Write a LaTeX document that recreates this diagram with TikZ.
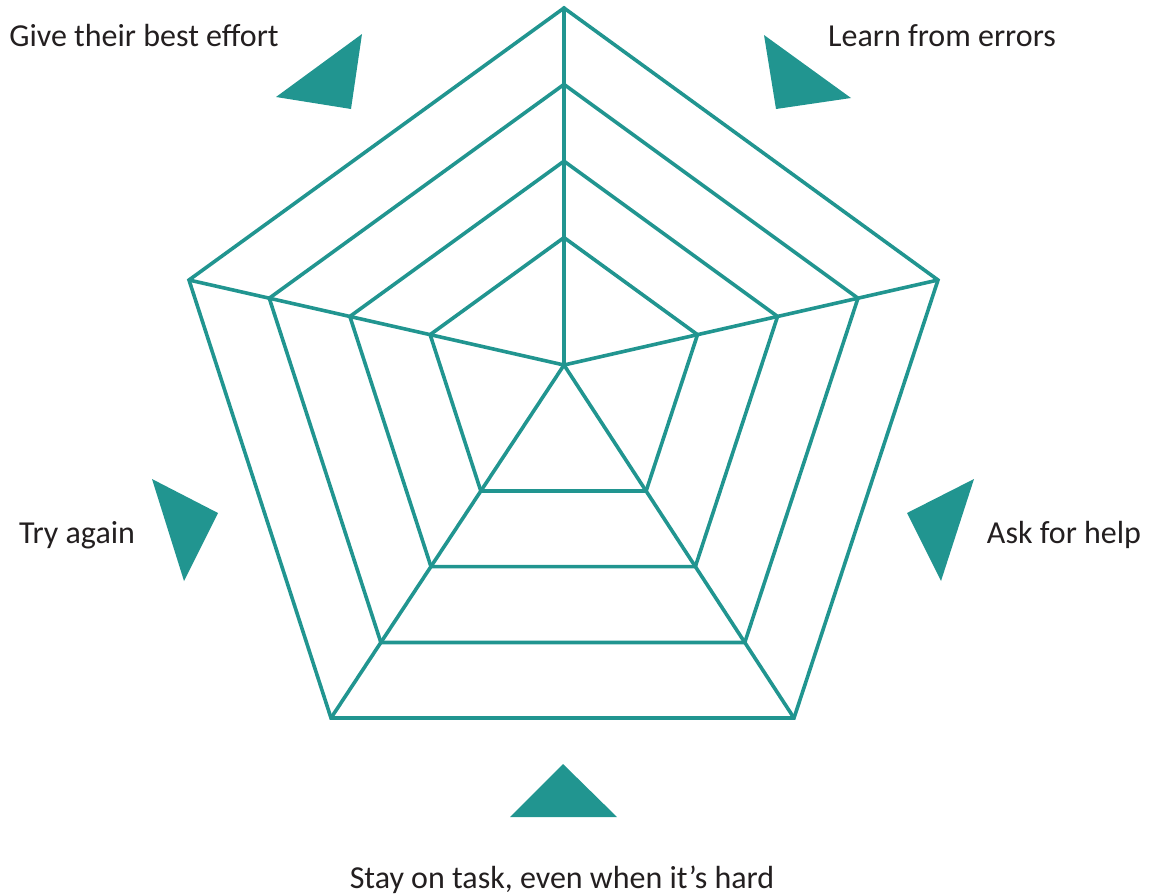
\documentclass[tikz,border=0pt]{standalone}
\usepackage{fontspec}
\setmainfont{Carlito}
\usetikzlibrary{calc}
\definecolor{tealA}{RGB}{33,149,144}
\definecolor{txtA}{RGB}{35,31,32}
\begin{document}
\begin{tikzpicture}[x=1pt,y=-1pt,
  web/.style={draw=tealA, line width=3.6pt, line join=miter},
  tri/.style={fill=tealA},
  lbl/.style={font=\fontsize{32}{38}\selectfont, text=txtA, anchor=base, inner sep=0pt}]
\useasboundingbox (0,0) rectangle (1151,895);
% centre and outer vertices
\coordinate (C) at (564,365);
\coordinate (V1) at (564,8);
\coordinate (V2) at (938,280);
\coordinate (V3) at (794,718);
\coordinate (V4) at (331,718);
\coordinate (V5) at (189,280);
% concentric rings
\foreach \r in {0.357,0.571,0.786,1} {
  \draw[web] ($(C)!\r!(V1)$) -- ($(C)!\r!(V2)$) -- ($(C)!\r!(V3)$) -- ($(C)!\r!(V4)$) -- ($(C)!\r!(V5)$) -- cycle;
}
% spokes
\foreach \i in {1,...,5} { \draw[web, line cap=round] (C) -- (V\i); }
% triangle markers
\fill[tri] (362,34) -- (276,97) -- (351,109) -- cycle;
\fill[tri] (764,35) -- (851,98) -- (776,109) -- cycle;
\fill[tri] (152,479) -- (218,513) -- (184,581) -- cycle;
\fill[tri] (974,479) -- (907,513) -- (941,581) -- cycle;
\fill[tri] (563,764) -- (510,817) -- (617,817) -- cycle;
% labels
\node[lbl] (l1) at (144,46) {Give their best effort};
\node[lbl] (l2) at (942,46) {Learn from errors};
\node[lbl] (l3) at (77,543) {Try again};
\node[lbl] (l4) at (1064,543) {Ask for help};
\node[lbl] (l5) at (562,888) {Stay on task, even when it’s hard};
\end{tikzpicture}
\end{document}
